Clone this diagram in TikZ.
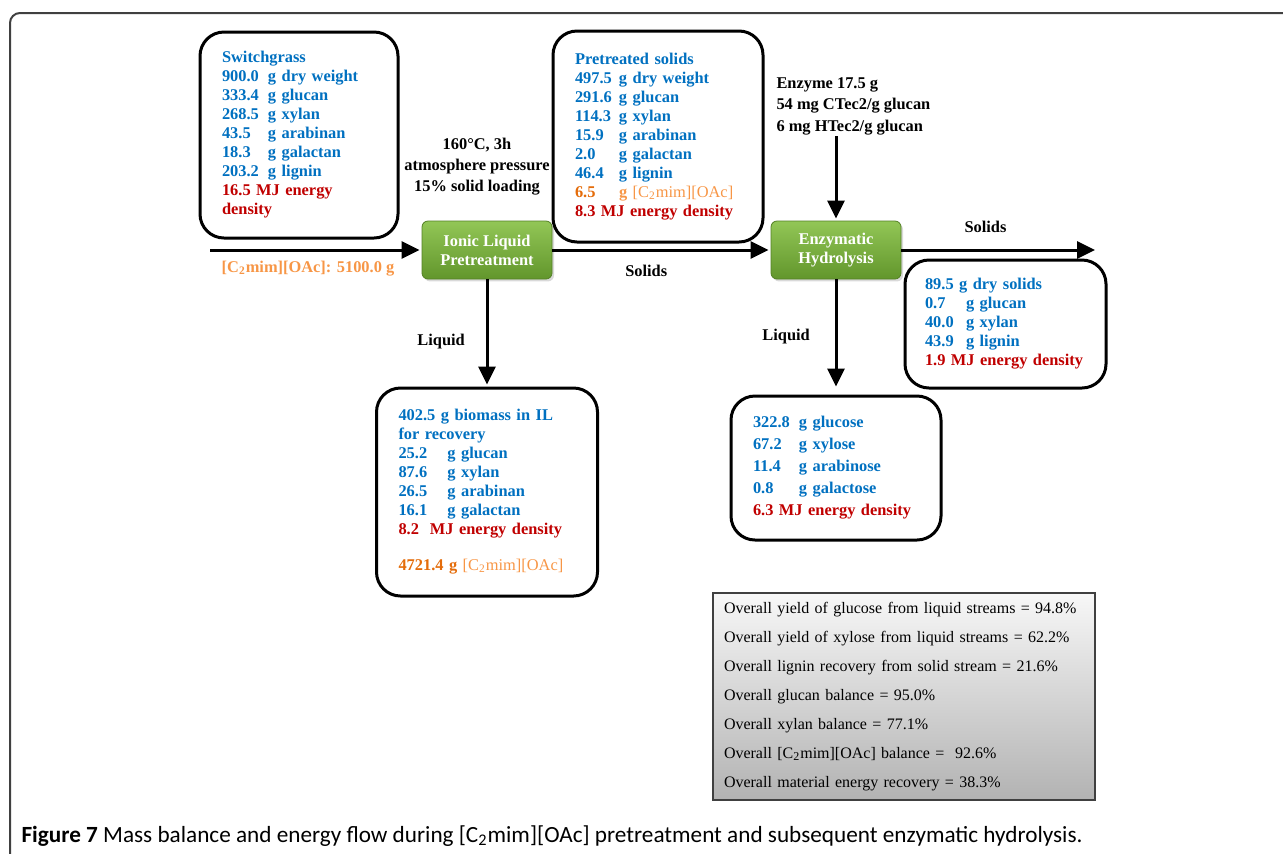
\documentclass[tikz,border=0pt]{standalone}
\usepackage{fontspec}
\setmainfont{Liberation Serif}
\newfontfamily\capfont{Carlito}
\usetikzlibrary{arrows.meta,shadows}
\hyphenpenalty=10000
\exhyphenpenalty=10000

\definecolor{qblue}{RGB}{0,112,192}
\definecolor{qred}{RGB}{192,0,0}
\definecolor{qorange}{RGB}{228,108,10}
\definecolor{qlight}{RGB}{247,150,70}
\definecolor{qgreentop}{RGB}{146,198,86}
\definecolor{qgreenbot}{RGB}{98,150,44}

\newcommand{\ilname}{[C\textsubscript{2}mim][OAc]}
\newcommand{\amount}[3][23pt]{\makebox[#1][l]{#2}#3}

\tikzset{
  databox/.style={draw, line width=1.5pt, rounded corners=12pt, inner xsep=11pt, align=left, text=qblue},
  process/.style={draw=qgreenbot!85!black, line width=0.4pt, rounded corners=3pt, top color=qgreentop, bottom color=qgreenbot,
    text=white, align=center, minimum width=65pt, minimum height=29pt,
    drop shadow={opacity=0.3, shadow xshift=1pt, shadow yshift=-1.2pt}},
  summary/.style={draw=black!75, line width=0.6pt, top color=black!3, bottom color=black!30, inner xsep=5.5pt,
    align=left, text width=180pt, minimum height=103.5pt, font=\mdseries\fontsize{8}{14.5}\selectfont},
}

\begin{document}
\begin{tikzpicture}[x=0.5pt, y=-0.5pt, >={Triangle[length=9pt,width=8.5pt]}, shorten >=1pt, line width=1.5pt,
  font=\bfseries\fontsize{8.2}{9.5}\selectfont]
  \useasboundingbox (0,0) rectangle (1283,853);
  \draw[line width=1pt, black!75, rounded corners=5pt] (10,13) rectangle (1310,880);

  \node[databox, text width=77pt, minimum height=103pt] (swg) at (299,135) {Switchgrass\\
    \amount{900.0}{g dry weight}\\
    \amount{333.4}{g glucan}\\
    \amount{268.5}{g xylan}\\
    \amount{43.5}{g arabinan}\\
    \amount{18.3}{g galactan}\\
    \amount{203.2}{g lignin}\\
    \textcolor{qred}{16.5 MJ energy}\\
    \textcolor{qred}{density}};

  \node[databox, text width=83pt, minimum height=105.5pt] (pts) at (658,136.5) {Pretreated solids\\
    \amount[22pt]{497.5}{g dry weight}\\
    \amount[22pt]{291.6}{g glucan}\\
    \amount[22pt]{114.3}{g xylan}\\
    \amount[22pt]{15.9}{g arabinan}\\
    \amount[22pt]{2.0}{g galactan}\\
    \amount[22pt]{46.4}{g lignin}\\
    \amount[22pt]{\textcolor{qorange}{6.5}}{\textcolor{qlight}{g \mdseries\ilname}}\\
    \textcolor{qred}{8.3 MJ energy density}};

  \node[databox, text width=88.5pt, minimum height=104pt] (ilq) at (487,492) {402.5 g biomass in IL\\
    for recovery\\
    \amount[24.5pt]{25.2}{g glucan}\\
    \amount[24.5pt]{87.6}{g xylan}\\
    \amount[24.5pt]{26.5}{g arabinan}\\
    \amount[24.5pt]{16.1}{g galactan}\\
    \textcolor{qred}{8.2\ \ MJ energy density}\\[8.5pt]
    \textcolor{qorange}{4721.4 g} \textcolor{qlight}{\mdseries\ilname}};

  \node[databox, inner xsep=10pt, text width=80.5pt, minimum height=64pt] (sol) at (1005.5,324) {89.5 g dry solids\\
    \amount[20.5pt]{0.7}{g glucan}\\
    \amount[20.5pt]{40.0}{g xylan}\\
    \amount[20.5pt]{43.9}{g lignin}\\
    \textcolor{qred}{1.9 MJ energy density}};

  \node[databox, text width=83pt, minimum height=72pt, font=\bfseries\fontsize{8.2}{11}\selectfont] (sug) at (836,468) {\amount{322.8}{g glucose}\\
    \amount{67.2}{g xylose}\\
    \amount{11.4}{g arabinose}\\
    \amount{0.8}{g galactose}\\
    \textcolor{qred}{6.3 MJ energy density}};

  \node[process] (ilp) at (487,250) {Ionic Liquid\\Pretreatment};
  \node[process] (eh) at (836,250) {Enzymatic\\Hydrolysis};

  \node[align=center, font=\bfseries\fontsize{8.2}{10.5}\selectfont] (cond) at (477,167) {160\textdegree C, 3h\\atmosphere pressure\\15\% solid loading};
  \node[align=left, anchor=north west, inner sep=0pt, font=\bfseries\fontsize{8.2}{10.75}\selectfont] (enz) at (775,76) {Enzyme 17.5 g\\54 mg CTec2/g glucan\\6 mg HTec2/g glucan};
  \node[text=qlight] (feedlbl) at (308,269) {\ilname: 5100.0 g};

  \coordinate (feed) at (210,250);
  \coordinate (prod) at (1097,250);

  \node[summary] (sum) at (904,696.5) {Overall yield of glucose from liquid streams = 94.8\%\\
    Overall yield of xylose from liquid streams = 62.2\%\\
    Overall lignin recovery from solid stream = 21.6\%\\
    Overall glucan balance = 95.0\%\\
    Overall xylan balance = 77.1\%\\
    Overall \ilname\ balance =\ \ 92.6\%\\
    Overall material energy recovery = 38.3\%};

  \node[anchor=base west, inner sep=0pt, font=\mdseries\capfont\fontsize{11.6}{13}\selectfont] (cap) at (20,842)
    {\textbf{Figure 7} Mass balance and energy flow during \ilname\ pretreatment and subsequent enzymatic hydrolysis.};

  \path[->]
    (feed) edge (ilp)
    (ilp)
      edge node[below=3.5pt, pos=0.43]{Solids} (eh)
      edge node[left=7pt, pos=0.58]{Liquid} (ilq)
    (enz.south -| eh.north) edge (eh)
    (eh)
      edge node[above=4.5pt, pos=0.43]{Solids} (prod)
      edge [shorten >=4pt] node[left=9pt]{Liquid} (sug)
  ;
\end{tikzpicture}
\end{document}
